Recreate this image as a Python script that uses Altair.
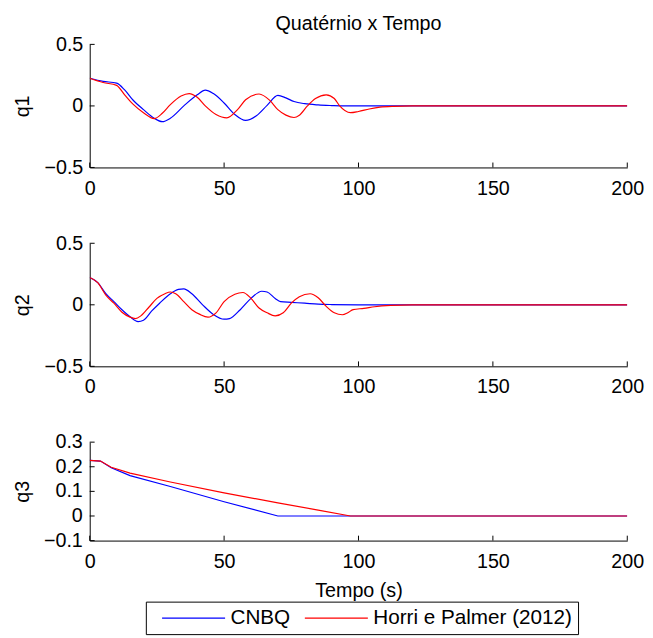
import altair as alt
import pandas as pd

FONT = "Liberation Sans"
FS = 20
LFS = 21

series_names = ["CNBQ", "Horri e Palmer (2012)"]
series_colors = ["#0000ff", "#ff0000"]

x_ticks = [0, 50, 100, 150, 200]
q1_ticks = [-0.5, 0, 0.5]
q2_ticks = [-0.5, 0, 0.5]
q3_ticks = [-0.1, 0, 0.1, 0.2, 0.3]

# q1
q1_cnbq_t = [0, 5, 10, 13, 16, 20, 24, 27, 30, 35, 40, 43, 46, 50, 54, 58, 62, 66, 70, 73, 76, 80, 85, 90, 95, 120, 200]
q1_cnbq_v = [0.225, 0.2, 0.185, 0.13, 0.05, -0.03, -0.1, -0.128, -0.1, 0.0, 0.09, 0.128, 0.1, 0.024, -0.07, -0.118, -0.08, 0.005, 0.085, 0.065, 0.036, 0.018, 0.008, 0.003, 0.0, 0.0, 0.0]
q1_hp_t = [0, 5, 10, 13, 16, 20, 24, 27, 30, 34, 37, 40, 43, 47, 51, 55, 58, 63, 67, 70, 73, 76, 78, 81, 84, 88, 91, 93, 97, 100, 104, 108, 113, 120, 200]
q1_hp_v = [0.225, 0.19, 0.167, 0.09, 0.016, -0.055, -0.103, -0.06, 0.01, 0.08, 0.1, 0.07, 0.0, -0.07, -0.097, -0.03, 0.05, 0.097, 0.045, -0.03, -0.075, -0.094, -0.075, 0.0, 0.06, 0.09, 0.06, 0.0, -0.055, -0.045, -0.025, -0.01, -0.003, 0.0, 0.0]

# q2
q2_cnbq_t = [0, 3, 6, 9, 12, 15, 18, 20, 23, 26, 30, 33, 35, 38, 42, 46, 50, 52, 56, 60, 64, 66, 69, 71, 75, 80, 85, 90, 100, 200]
q2_cnbq_v = [0.222, 0.18, 0.09, 0.026, -0.04, -0.097, -0.136, -0.125, -0.052, 0.013, 0.09, 0.125, 0.13, 0.09, 0.0, -0.078, -0.117, -0.112, -0.04, 0.052, 0.11, 0.104, 0.052, 0.026, 0.02, 0.013, 0.005, 0.002, 0.0, 0.0]
q2_hp_t = [0, 3, 6, 9, 12, 15, 17, 19, 22, 25, 28, 30, 32, 35, 38, 41, 44, 47, 50, 54, 57, 60, 63, 66, 69, 72, 75, 78, 82, 85, 88, 91, 94, 96, 98, 102, 106, 112, 120, 200]
q2_hp_v = [0.222, 0.18, 0.078, 0.013, -0.06, -0.1, -0.112, -0.09, -0.02, 0.052, 0.09, 0.104, 0.09, 0.026, -0.04, -0.078, -0.1, -0.065, 0.026, 0.086, 0.1, 0.052, -0.026, -0.065, -0.09, -0.065, 0.013, 0.065, 0.09, 0.057, -0.013, -0.065, -0.081, -0.065, -0.039, -0.029, -0.016, -0.005, 0.0, 0.0]

# q3
q3_cnbq_t = [0, 4, 8, 15, 30, 50, 70, 200]
q3_cnbq_v = [0.226, 0.223, 0.196, 0.164, 0.12, 0.058, 0.0, 0.0]
q3_hp_t = [0, 4, 8, 15, 30, 50, 70, 85, 97, 200]
q3_hp_v = [0.226, 0.223, 0.198, 0.174, 0.138, 0.094, 0.053, 0.024, 0.0, 0.0]


def make_df(tb, vb, tr, vr):
    a = pd.DataFrame({"t": tb, "v": vb, "s": series_names[0]})
    b = pd.DataFrame({"t": tr, "v": vr, "s": series_names[1]})
    return pd.concat([a, b], ignore_index=True)


legend = alt.Legend(
    title=None,
    orient="none",
    legendX=57,
    legendY=566,
    direction="horizontal",
    columns=2,
    symbolType="M0,0H8",
    symbolSize=256,
    symbolStrokeWidth=1.2,
    labelOffset=59,
    columnPadding=4,
    padding=6,
    strokeColor="black",
    fillColor="white",
    labelFont=FONT,
    labelFontSize=LFS,
    labelColor="black",
    labelLimit=400,
)

W = 546
LABEL_PAD_Y = 7
TITLE_PAD_Y = 12
MINUS_LABEL_W = 39.5  # width of the widest y label ("−0.1" / "−0.5") at FS


def panel(df, label, domain, ticks, height, interp, xtitle=None, title=None, text_labels=False):
    xscale = alt.Scale(domain=[0, 200], nice=False, zero=False)
    yscale = alt.Scale(domain=domain, nice=False, zero=False)
    xaxis = alt.Axis(values=x_ticks, format="d", title=xtitle if xtitle else None,
                     labelOverlap=False, labelFlush=False)
    if text_labels:
        yaxis = alt.Axis(values=ticks, labels=False, title=label,
                         titlePadding=TITLE_PAD_Y + MINUS_LABEL_W + LABEL_PAD_Y)
    else:
        yaxis = alt.Axis(values=ticks, format=".1~f", title=label, labelOverlap=False)
    lines = alt.Chart(df).mark_line(strokeWidth=1.2, interpolate=interp, clip=True).encode(
        x=alt.X("t:Q", scale=xscale, axis=xaxis),
        y=alt.Y("v:Q", scale=yscale, axis=yaxis),
        color=alt.Color("s:N", scale=alt.Scale(domain=series_names, range=series_colors), legend=legend),
    )
    tick_df = pd.DataFrame({"v": ticks})
    yt = alt.Chart(tick_df).mark_rule(color="black", strokeWidth=1).encode(
        y=alt.Y("v:Q", scale=yscale),
        x=alt.value(0),
        x2=alt.value(5),
    )
    xt = alt.Chart(pd.DataFrame({"t": x_ticks})).mark_rule(color="black", strokeWidth=1).encode(
        x=alt.X("t:Q", scale=xscale),
        y=alt.value(height),
        y2=alt.value(height - 5),
    )
    layers = [lines, yt, xt]
    if text_labels:
        ylab = alt.Chart(tick_df).mark_text(
            align="right", baseline="middle", dx=-LABEL_PAD_Y, font=FONT, fontSize=FS, color="black"
        ).encode(
            y=alt.Y("v:Q", scale=yscale),
            x=alt.value(0),
            text=alt.Text("v:Q", format=".1~f"),
        )
        layers.append(ylab)
    props = dict(width=W, height=height)
    if title:
        props["title"] = alt.TitleParams(title, font=FONT, fontSize=FS, fontWeight="normal",
                                         color="black", anchor="middle", frame="group", offset=1)
    return alt.layer(*layers).properties(**props)


p1 = panel(make_df(q1_cnbq_t, q1_cnbq_v, q1_hp_t, q1_hp_v), "q1", [-0.5, 0.5], q1_ticks, 125, "monotone",
           title="Quatérnio x Tempo")
p2 = panel(make_df(q2_cnbq_t, q2_cnbq_v, q2_hp_t, q2_hp_v), "q2", [-0.5, 0.5], q2_ticks, 125, "monotone")
p3 = panel(make_df(q3_cnbq_t, q3_cnbq_v, q3_hp_t, q3_hp_v), "q3", [-0.1, 0.3], q3_ticks, 100, "linear",
           xtitle="Tempo (s)", text_labels=True)

chart = alt.vconcat(p1, p2, p3, spacing=34).properties(
    padding={"left": 4, "top": 0, "right": 0, "bottom": 0}
).configure_view(stroke="transparent").configure_axis(
    grid=False,
    ticks=False,
    tickSize=0,
    domainColor="black",
    domainWidth=1,
    labelColor="black",
    labelFont=FONT,
    labelFontSize=FS,
    titleFont=FONT,
    titleFontSize=FS,
    titleFontWeight="normal",
    titleColor="black",
).configure_axisY(titlePadding=TITLE_PAD_Y, labelPadding=LABEL_PAD_Y).configure_axisX(titlePadding=10, labelPadding=11)

chart.save("out.html", embed_options={"renderer": "svg", "actions": False})
